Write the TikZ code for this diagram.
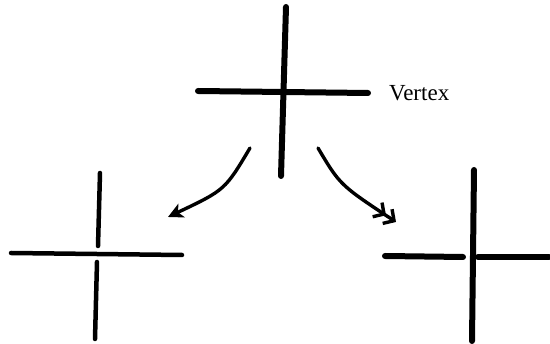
\documentclass[tikz,border=0pt]{standalone}
\usepackage{fontspec}
\setmainfont{Liberation Serif}
\usetikzlibrary{arrows.meta,positioning}
\tikzset{
bar/.style={line width=6pt,line cap=round},
thinbar/.style={line width=4.5pt,line cap=round},
move/.style={line width=3.4pt,line cap=round},
leftmove/.style={move,-{Stealth[length=15pt,width=15pt,inset=4pt]}},
rightmove/.style={move,-{Straight Barb[length=8pt,width=17pt]Straight Barb[length=8pt,width=17pt]}},
label/.style={font=\fontsize{23}{26}\selectfont,anchor=west,inner sep=0pt}
}
\begin{document}
\begin{tikzpicture}[x=1pt,y=-1pt]
\useasboundingbox (0,0) rectangle (550,344);
% vertex
\coordinate (vt) at (286,7);\coordinate (vb) at (281,176);
\coordinate (vl) at (198,91);\coordinate (vr) at (368,93);
\draw[bar](vt)--(vb);\draw[bar](vl)--(vr);
\node[label](vx) at (389,93){Vertex};
% left: vertical broken
\coordinate (lt) at (100,173);\coordinate (lm1) at (98,246);
\coordinate (lm2) at (97,262);\coordinate (lb) at (95,339);
\coordinate (ll) at (11,253);\coordinate (lr) at (182,255);
\draw[thinbar](ll)--(lr);\draw[thinbar](lt)--(lm1);\draw[thinbar](lm2)--(lb);
% right: horizontal broken
\coordinate (rt) at (474,170);\coordinate (rb) at (472,341);
\coordinate (rl) at (385,256);\coordinate (rm1) at (463,257);
\coordinate (rm2) at (478,257);\coordinate (rr) at (549,257);
\draw[bar](rt)--(rb);\draw[bar](rl)--(rm1);\draw[bar](rm2)--(rr);
% moves
\coordinate (as) at (250,148);\coordinate (ae) at (168,217);
\coordinate (bs) at (318,148);\coordinate (be) at (396,222);
\draw[leftmove](as) .. controls (225,190) .. (ae);
\draw[rightmove](bs) .. controls (340,185) .. (be);
\end{tikzpicture}
\end{document}
